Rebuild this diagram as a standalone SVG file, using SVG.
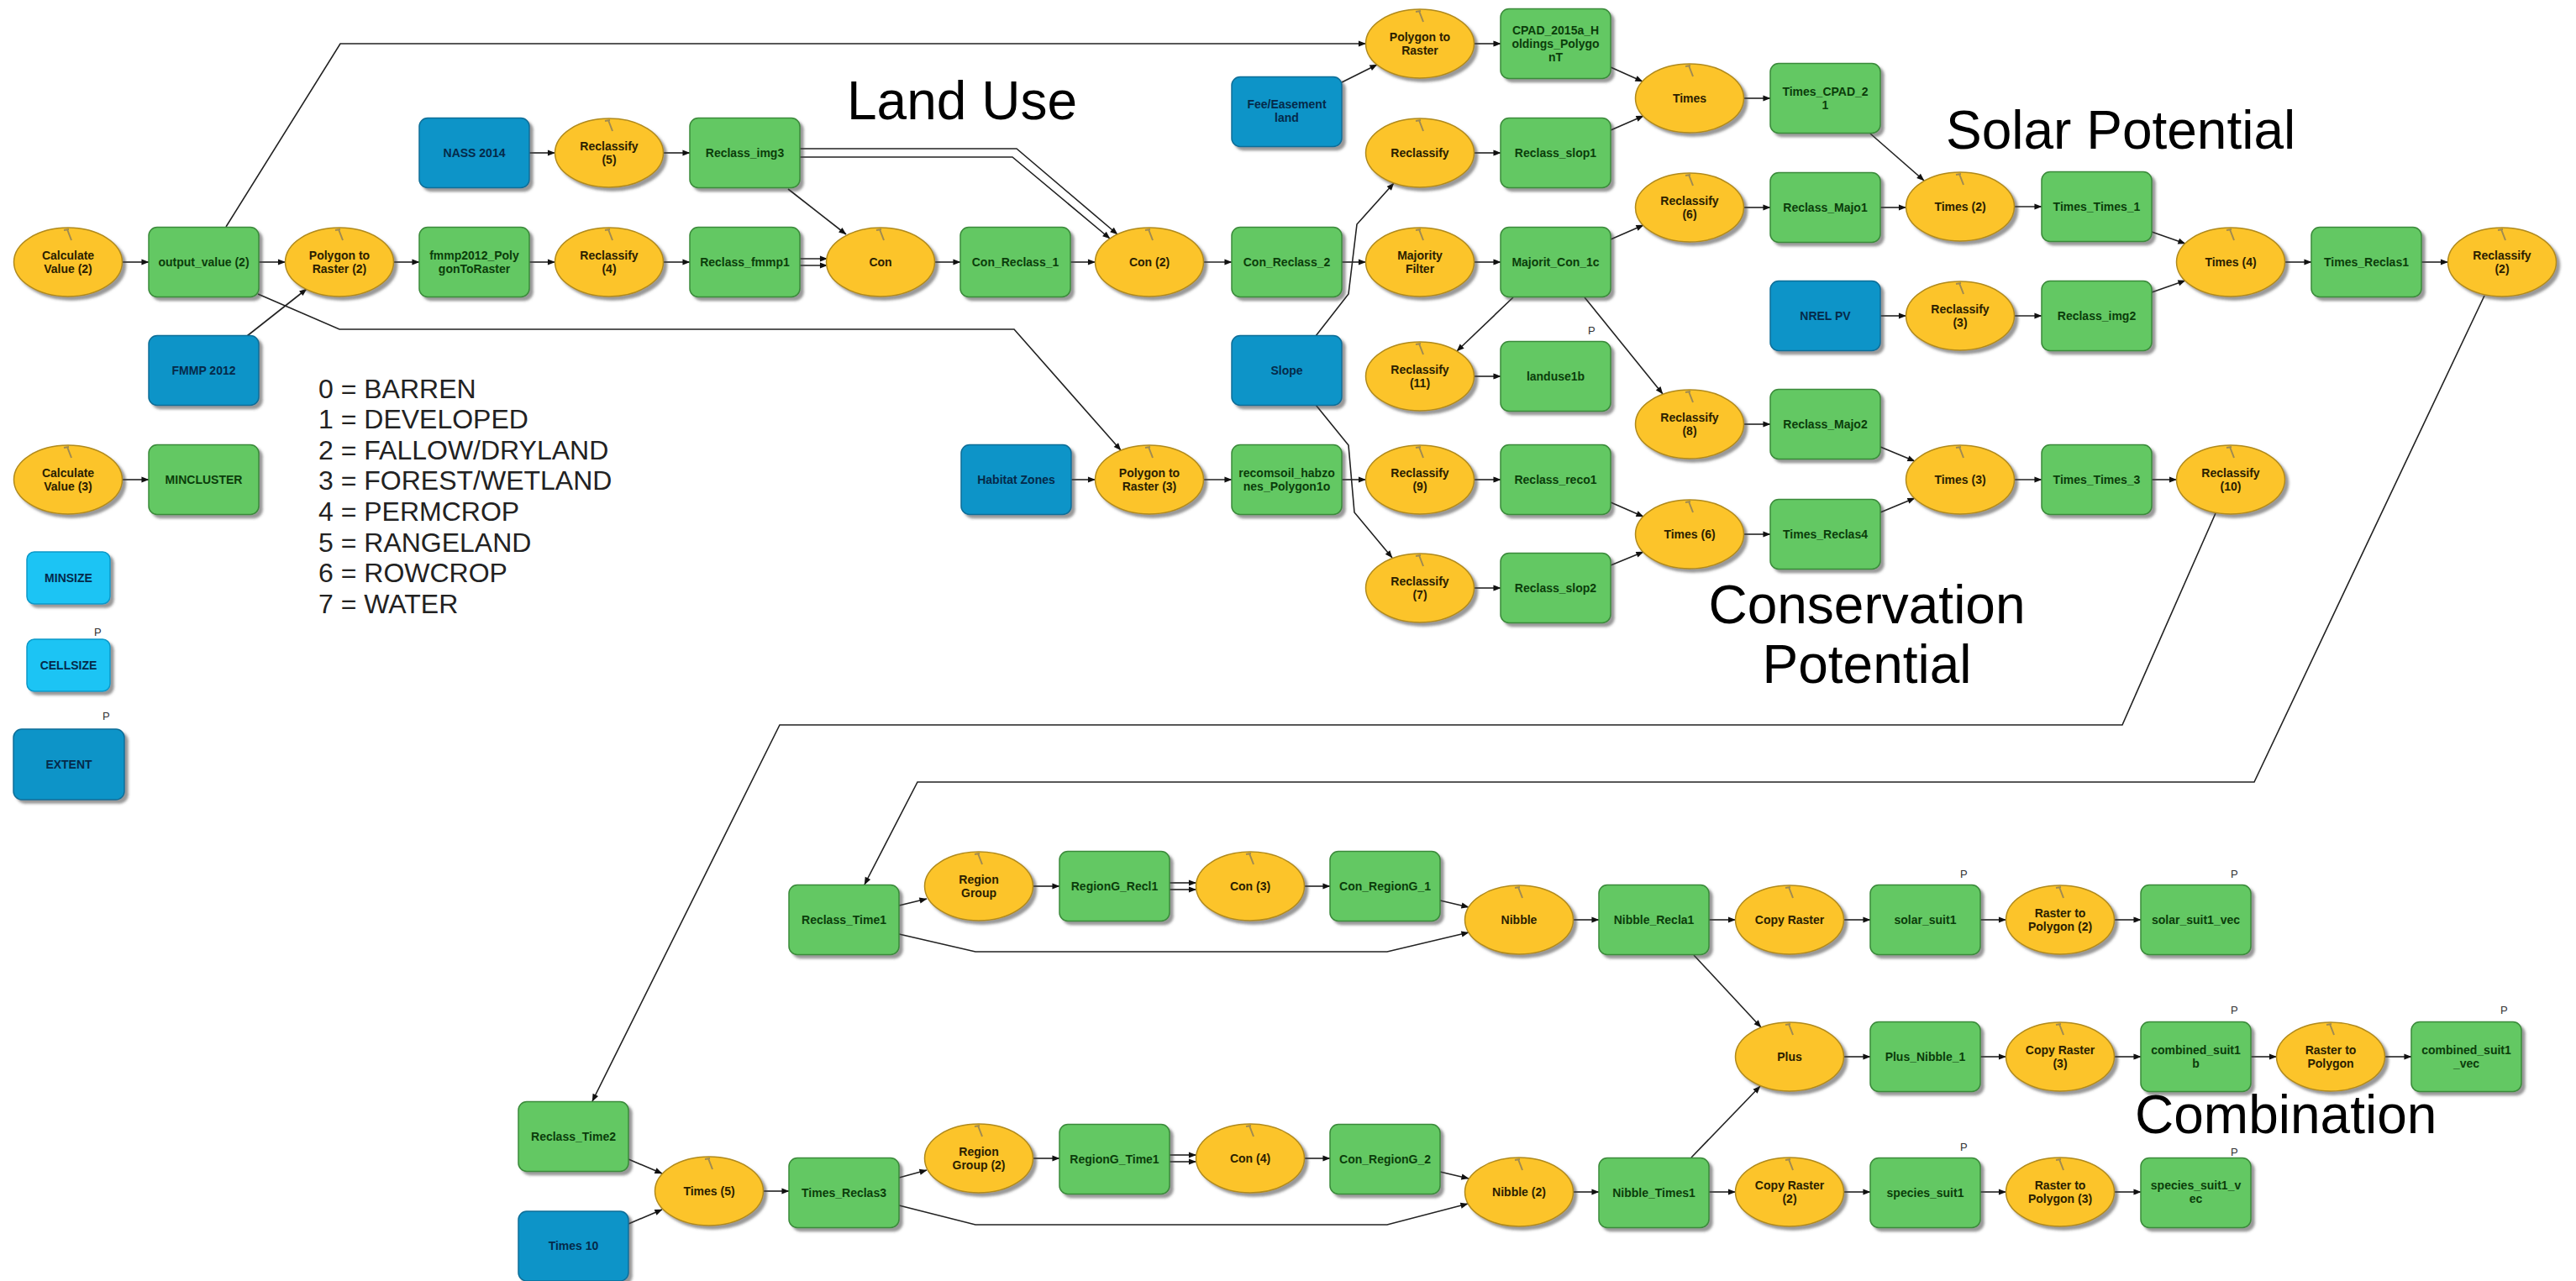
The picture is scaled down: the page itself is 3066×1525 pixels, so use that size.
<svg xmlns="http://www.w3.org/2000/svg" width="3066" height="1525" viewBox="0 0 3066 1525">
<style>
.g{fill:#64c864;stroke:#3a8a3a;stroke-width:1.5}
.y{fill:#fcc42c;stroke:#b08a1c;stroke-width:1.5}
.b{fill:#0a94c8;stroke:#0a6e98;stroke-width:1.5}
.lb{fill:#1cc4f4;stroke:#0a98c8;stroke-width:1.5}
text{font-family:"Liberation Sans",Arial,sans-serif}
.tg{font-size:14px;font-weight:bold;fill:#0b3d0b;text-anchor:middle}
.ty{font-size:14px;font-weight:bold;fill:#2b2000;text-anchor:middle}
.tb{font-size:14px;font-weight:bold;fill:#052a4a;text-anchor:middle}
.p{font-size:13px;fill:#333}
.title{font-size:64px;fill:#000}
.leg{font-size:32px;fill:#222}
.c line,.c polyline{stroke:#222;stroke-width:1.6;fill:none;marker-end:url(#arr)}
</style>
<defs>
<filter id="sh" x="-10%" y="-10%" width="130%" height="130%"><feDropShadow dx="4" dy="4" stdDeviation="1.5" flood-color="#444" flood-opacity="0.55"/></filter>
<marker id="arr" viewBox="0 0 10 10" refX="9.5" refY="5" markerWidth="10" markerHeight="9" markerUnits="userSpaceOnUse" orient="auto"><path d="M0,1 L10,5 L0,9 z" fill="#111"/></marker>
<g id="tool"><path d="M-5,3 L1,2 M-1,2 L4,15" stroke="#a08a50" stroke-width="2" fill="none"/></g>
</defs>
<rect width="3066" height="1525" fill="#fff"/>

<g class="c" id="connectors">
<line x1="145.5" y1="312" x2="177" y2="312"/>
<line x1="308" y1="312" x2="339.5" y2="312"/>
<line x1="468.5" y1="312" x2="499" y2="312"/>
<line x1="630" y1="312" x2="660.5" y2="312"/>
<line x1="630" y1="182" x2="660.5" y2="182"/>
<line x1="789.5" y1="182" x2="821" y2="182"/>
<line x1="789.5" y1="312" x2="821" y2="312"/>
<line x1="952" y1="308" x2="984.5" y2="308"/>
<line x1="952" y1="316" x2="984.5" y2="316"/>
<line x1="938" y1="225" x2="1007" y2="279"/>
<polyline points="952,177 1210,177 1330,279"/>
<polyline points="952,187 1205,187 1321,284"/>
<line x1="1112.5" y1="312" x2="1143" y2="312"/>
<line x1="1274" y1="312" x2="1303.5" y2="312"/>
<line x1="1432.5" y1="312" x2="1466" y2="312"/>
<line x1="1597" y1="312" x2="1625.5" y2="312"/>
<line x1="1754.5" y1="312" x2="1786" y2="312"/>
<line x1="1754.5" y1="52" x2="1786" y2="52"/>
<line x1="1597" y1="98" x2="1639" y2="77"/>
<line x1="1754.5" y1="182" x2="1786" y2="182"/>
<line x1="1917" y1="80" x2="1955" y2="97"/>
<line x1="1917" y1="155" x2="1956" y2="138"/>
<line x1="2075.5" y1="117" x2="2107" y2="117"/>
<line x1="2226" y1="159" x2="2290" y2="215"/>
<line x1="1917" y1="285" x2="1956" y2="268"/>
<line x1="2075.5" y1="247" x2="2107" y2="247"/>
<line x1="2238" y1="247" x2="2268.5" y2="247"/>
<line x1="1801" y1="354" x2="1734" y2="418"/>
<line x1="1886" y1="354" x2="1979" y2="469"/>
<line x1="1754.5" y1="448" x2="1786" y2="448"/>
<line x1="2075.5" y1="505" x2="2107" y2="505"/>
<line x1="2397.5" y1="246" x2="2430" y2="246"/>
<line x1="2561" y1="276" x2="2601" y2="290"/>
<line x1="2561" y1="348" x2="2601" y2="334"/>
<line x1="2238" y1="376" x2="2268.5" y2="376"/>
<line x1="2397.5" y1="376" x2="2430" y2="376"/>
<line x1="2719.5" y1="312" x2="2751" y2="312"/>
<line x1="2882" y1="312" x2="2913.5" y2="312"/>
<polyline points="1566,400 1605,350 1615,267 1659,218"/>
<polyline points="1566,482 1605,530 1612,610 1657,664"/>
<line x1="1275" y1="571" x2="1303.5" y2="571"/>
<line x1="1432.5" y1="571" x2="1466" y2="571"/>
<line x1="1597" y1="571" x2="1625.5" y2="571"/>
<line x1="1754.5" y1="571" x2="1786" y2="571"/>
<line x1="1917" y1="598" x2="1956" y2="615"/>
<line x1="1917" y1="673" x2="1956" y2="657"/>
<line x1="1754.5" y1="700" x2="1786" y2="700"/>
<line x1="2075.5" y1="636" x2="2107" y2="636"/>
<line x1="2238" y1="532" x2="2279" y2="549"/>
<line x1="2238" y1="610" x2="2279" y2="593"/>
<line x1="2397.5" y1="571" x2="2430" y2="571"/>
<line x1="2561" y1="571" x2="2590.5" y2="571"/>
<line x1="145.5" y1="571" x2="177" y2="571"/>
<polyline points="269,270 405,52 1625.5,52"/>
<polyline points="307,350 404,392 1207,392 1334,536"/>
<line x1="294" y1="400" x2="365" y2="344"/>
<polyline points="2637,611 2526,863 928,863 705,1311"/>
<polyline points="2957,352 2683,931 1092,931 1029,1053"/>
<line x1="748" y1="1380" x2="788" y2="1397"/>
<line x1="748" y1="1457" x2="788" y2="1440"/>
<line x1="908.5" y1="1418" x2="939" y2="1418"/>
<line x1="1070" y1="1402" x2="1103" y2="1393"/>
<line x1="1229.5" y1="1379" x2="1261" y2="1379"/>
<line x1="1392" y1="1375" x2="1423.5" y2="1375"/>
<line x1="1392" y1="1383" x2="1423.5" y2="1383"/>
<line x1="1552.5" y1="1379" x2="1583" y2="1379"/>
<line x1="1714" y1="1395" x2="1748" y2="1403"/>
<polyline points="1070,1435 1161,1458 1651,1458 1747,1433"/>
<line x1="1872.5" y1="1419" x2="1903" y2="1419"/>
<line x1="2034" y1="1419" x2="2065.5" y2="1419"/>
<line x1="2194.5" y1="1419" x2="2226" y2="1419"/>
<line x1="2357" y1="1419" x2="2387.5" y2="1419"/>
<line x1="2516.5" y1="1419" x2="2548" y2="1419"/>
<line x1="1070" y1="1078" x2="1103" y2="1070"/>
<line x1="1229.5" y1="1055" x2="1261" y2="1055"/>
<line x1="1392" y1="1051" x2="1423.5" y2="1051"/>
<line x1="1392" y1="1059" x2="1423.5" y2="1059"/>
<line x1="1552.5" y1="1055" x2="1583" y2="1055"/>
<line x1="1714" y1="1072" x2="1748" y2="1080"/>
<polyline points="1070,1112 1161,1133 1651,1133 1748,1110"/>
<line x1="1872.5" y1="1095" x2="1903" y2="1095"/>
<line x1="2034" y1="1095" x2="2065.5" y2="1095"/>
<line x1="2194.5" y1="1095" x2="2226" y2="1095"/>
<line x1="2357" y1="1095" x2="2387.5" y2="1095"/>
<line x1="2516.5" y1="1095" x2="2548" y2="1095"/>
<line x1="2016" y1="1137" x2="2096" y2="1223"/>
<line x1="2013" y1="1378" x2="2095" y2="1293"/>
<line x1="2194.5" y1="1258" x2="2226" y2="1258"/>
<line x1="2357" y1="1258" x2="2387.5" y2="1258"/>
<line x1="2516.5" y1="1258" x2="2548" y2="1258"/>
<line x1="2679" y1="1258" x2="2709.5" y2="1258"/>
<line x1="2838.5" y1="1258" x2="2870" y2="1258"/>
</g>

<!-- tool nodes (yellow ellipses) -->
<g id="calc2"><ellipse class="y" filter="url(#sh)" cx="81" cy="312" rx="64.5" ry="41"/><use href="#tool" transform="translate(81,271)"/><text class="ty" x="81" y="309">Calculate</text><text class="ty" x="81" y="325">Value (2)</text></g>
<g id="ptr2"><ellipse class="y" filter="url(#sh)" cx="404" cy="312" rx="64.5" ry="41"/><use href="#tool" transform="translate(404,271)"/><text class="ty" x="404" y="309">Polygon to</text><text class="ty" x="404" y="325">Raster (2)</text></g>
<g id="recl5"><ellipse class="y" filter="url(#sh)" cx="725" cy="182" rx="64.5" ry="41"/><use href="#tool" transform="translate(725,141)"/><text class="ty" x="725" y="179">Reclassify</text><text class="ty" x="725" y="195">(5)</text></g>
<g id="recl4"><ellipse class="y" filter="url(#sh)" cx="725" cy="312" rx="64.5" ry="41"/><use href="#tool" transform="translate(725,271)"/><text class="ty" x="725" y="309">Reclassify</text><text class="ty" x="725" y="325">(4)</text></g>
<g id="con"><ellipse class="y" filter="url(#sh)" cx="1048" cy="312" rx="64.5" ry="41"/><use href="#tool" transform="translate(1048,271)"/><text class="ty" x="1048" y="317">Con</text></g>
<g id="con2"><ellipse class="y" filter="url(#sh)" cx="1368" cy="312" rx="64.5" ry="41"/><use href="#tool" transform="translate(1368,271)"/><text class="ty" x="1368" y="317">Con (2)</text></g>
<g id="ptr"><ellipse class="y" filter="url(#sh)" cx="1690" cy="52" rx="64.5" ry="41"/><use href="#tool" transform="translate(1690,11)"/><text class="ty" x="1690" y="49">Polygon to</text><text class="ty" x="1690" y="65">Raster</text></g>
<g id="recl"><ellipse class="y" filter="url(#sh)" cx="1690" cy="182" rx="64.5" ry="41"/><use href="#tool" transform="translate(1690,141)"/><text class="ty" x="1690" y="187">Reclassify</text></g>
<g id="majf"><ellipse class="y" filter="url(#sh)" cx="1690" cy="312" rx="64.5" ry="41"/><use href="#tool" transform="translate(1690,271)"/><text class="ty" x="1690" y="309">Majority</text><text class="ty" x="1690" y="325">Filter</text></g>
<g id="recl11"><ellipse class="y" filter="url(#sh)" cx="1690" cy="448" rx="64.5" ry="41"/><use href="#tool" transform="translate(1690,407)"/><text class="ty" x="1690" y="445">Reclassify</text><text class="ty" x="1690" y="461">(11)</text></g>
<g id="ptr3"><ellipse class="y" filter="url(#sh)" cx="1368" cy="571" rx="64.5" ry="41"/><use href="#tool" transform="translate(1368,530)"/><text class="ty" x="1368" y="568">Polygon to</text><text class="ty" x="1368" y="584">Raster (3)</text></g>
<g id="recl9"><ellipse class="y" filter="url(#sh)" cx="1690" cy="571" rx="64.5" ry="41"/><use href="#tool" transform="translate(1690,530)"/><text class="ty" x="1690" y="568">Reclassify</text><text class="ty" x="1690" y="584">(9)</text></g>
<g id="recl7"><ellipse class="y" filter="url(#sh)" cx="1690" cy="700" rx="64.5" ry="41"/><use href="#tool" transform="translate(1690,659)"/><text class="ty" x="1690" y="697">Reclassify</text><text class="ty" x="1690" y="713">(7)</text></g>
<g id="times"><ellipse class="y" filter="url(#sh)" cx="2011" cy="117" rx="64.5" ry="41"/><use href="#tool" transform="translate(2011,76)"/><text class="ty" x="2011" y="122">Times</text></g>
<g id="recl6"><ellipse class="y" filter="url(#sh)" cx="2011" cy="247" rx="64.5" ry="41"/><use href="#tool" transform="translate(2011,206)"/><text class="ty" x="2011" y="244">Reclassify</text><text class="ty" x="2011" y="260">(6)</text></g>
<g id="recl8"><ellipse class="y" filter="url(#sh)" cx="2011" cy="505" rx="64.5" ry="41"/><use href="#tool" transform="translate(2011,464)"/><text class="ty" x="2011" y="502">Reclassify</text><text class="ty" x="2011" y="518">(8)</text></g>
<g id="times6"><ellipse class="y" filter="url(#sh)" cx="2011" cy="636" rx="64.5" ry="41"/><use href="#tool" transform="translate(2011,595)"/><text class="ty" x="2011" y="641">Times (6)</text></g>
<g id="times2"><ellipse class="y" filter="url(#sh)" cx="2333" cy="246" rx="64.5" ry="41"/><use href="#tool" transform="translate(2333,205)"/><text class="ty" x="2333" y="251">Times (2)</text></g>
<g id="recl3"><ellipse class="y" filter="url(#sh)" cx="2333" cy="376" rx="64.5" ry="41"/><use href="#tool" transform="translate(2333,335)"/><text class="ty" x="2333" y="373">Reclassify</text><text class="ty" x="2333" y="389">(3)</text></g>
<g id="times3"><ellipse class="y" filter="url(#sh)" cx="2333" cy="571" rx="64.5" ry="41"/><use href="#tool" transform="translate(2333,530)"/><text class="ty" x="2333" y="576">Times (3)</text></g>
<g id="times4"><ellipse class="y" filter="url(#sh)" cx="2655" cy="312" rx="64.5" ry="41"/><use href="#tool" transform="translate(2655,271)"/><text class="ty" x="2655" y="317">Times (4)</text></g>
<g id="recl10"><ellipse class="y" filter="url(#sh)" cx="2655" cy="571" rx="64.5" ry="41"/><use href="#tool" transform="translate(2655,530)"/><text class="ty" x="2655" y="568">Reclassify</text><text class="ty" x="2655" y="584">(10)</text></g>
<g id="recl2"><ellipse class="y" filter="url(#sh)" cx="2978" cy="312" rx="64.5" ry="41"/><use href="#tool" transform="translate(2978,271)"/><text class="ty" x="2978" y="309">Reclassify</text><text class="ty" x="2978" y="325">(2)</text></g>
<g id="calc3"><ellipse class="y" filter="url(#sh)" cx="81" cy="571" rx="64.5" ry="41"/><use href="#tool" transform="translate(81,530)"/><text class="ty" x="81" y="568">Calculate</text><text class="ty" x="81" y="584">Value (3)</text></g>
<g id="times5"><ellipse class="y" filter="url(#sh)" cx="844" cy="1418" rx="64.5" ry="41"/><use href="#tool" transform="translate(844,1377)"/><text class="ty" x="844" y="1423">Times (5)</text></g>
<g id="rg"><ellipse class="y" filter="url(#sh)" cx="1165" cy="1055" rx="64.5" ry="41"/><use href="#tool" transform="translate(1165,1014)"/><text class="ty" x="1165" y="1052">Region</text><text class="ty" x="1165" y="1068">Group</text></g>
<g id="rg2"><ellipse class="y" filter="url(#sh)" cx="1165" cy="1379" rx="64.5" ry="41"/><use href="#tool" transform="translate(1165,1338)"/><text class="ty" x="1165" y="1376">Region</text><text class="ty" x="1165" y="1392">Group (2)</text></g>
<g id="con3"><ellipse class="y" filter="url(#sh)" cx="1488" cy="1055" rx="64.5" ry="41"/><use href="#tool" transform="translate(1488,1014)"/><text class="ty" x="1488" y="1060">Con (3)</text></g>
<g id="con4"><ellipse class="y" filter="url(#sh)" cx="1488" cy="1379" rx="64.5" ry="41"/><use href="#tool" transform="translate(1488,1338)"/><text class="ty" x="1488" y="1384">Con (4)</text></g>
<g id="nib"><ellipse class="y" filter="url(#sh)" cx="1808" cy="1095" rx="64.5" ry="41"/><use href="#tool" transform="translate(1808,1054)"/><text class="ty" x="1808" y="1100">Nibble</text></g>
<g id="nib2"><ellipse class="y" filter="url(#sh)" cx="1808" cy="1419" rx="64.5" ry="41"/><use href="#tool" transform="translate(1808,1378)"/><text class="ty" x="1808" y="1424">Nibble (2)</text></g>
<g id="cr"><ellipse class="y" filter="url(#sh)" cx="2130" cy="1095" rx="64.5" ry="41"/><use href="#tool" transform="translate(2130,1054)"/><text class="ty" x="2130" y="1100">Copy Raster</text></g>
<g id="plus"><ellipse class="y" filter="url(#sh)" cx="2130" cy="1258" rx="64.5" ry="41"/><use href="#tool" transform="translate(2130,1217)"/><text class="ty" x="2130" y="1263">Plus</text></g>
<g id="cr2"><ellipse class="y" filter="url(#sh)" cx="2130" cy="1419" rx="64.5" ry="41"/><use href="#tool" transform="translate(2130,1378)"/><text class="ty" x="2130" y="1416">Copy Raster</text><text class="ty" x="2130" y="1432">(2)</text></g>
<g id="rtp2"><ellipse class="y" filter="url(#sh)" cx="2452" cy="1095" rx="64.5" ry="41"/><use href="#tool" transform="translate(2452,1054)"/><text class="ty" x="2452" y="1092">Raster to</text><text class="ty" x="2452" y="1108">Polygon (2)</text></g>
<g id="cr3"><ellipse class="y" filter="url(#sh)" cx="2452" cy="1258" rx="64.5" ry="41"/><use href="#tool" transform="translate(2452,1217)"/><text class="ty" x="2452" y="1255">Copy Raster</text><text class="ty" x="2452" y="1271">(3)</text></g>
<g id="rtp3"><ellipse class="y" filter="url(#sh)" cx="2452" cy="1419" rx="64.5" ry="41"/><use href="#tool" transform="translate(2452,1378)"/><text class="ty" x="2452" y="1416">Raster to</text><text class="ty" x="2452" y="1432">Polygon (3)</text></g>
<g id="rtp"><ellipse class="y" filter="url(#sh)" cx="2774" cy="1258" rx="64.5" ry="41"/><use href="#tool" transform="translate(2774,1217)"/><text class="ty" x="2774" y="1255">Raster to</text><text class="ty" x="2774" y="1271">Polygon</text></g>

<!-- data nodes (green) -->
<g id="outval2"><rect class="g" filter="url(#sh)" x="177" y="270.5" width="131" height="83" rx="10"/><text class="tg" x="242.5" y="317">output_value (2)</text></g>
<g id="fmmp2012"><rect class="g" filter="url(#sh)" x="499" y="270.5" width="131" height="83" rx="10"/><text class="tg" x="564.5" y="309">fmmp2012_Poly</text><text class="tg" x="564.5" y="325">gonToRaster</text></g>
<g id="img3"><rect class="g" filter="url(#sh)" x="821" y="140.5" width="131" height="83" rx="10"/><text class="tg" x="886.5" y="187">Reclass_img3</text></g>
<g id="fmmp1"><rect class="g" filter="url(#sh)" x="821" y="270.5" width="131" height="83" rx="10"/><text class="tg" x="886.5" y="317">Reclass_fmmp1</text></g>
<g id="conrecl1"><rect class="g" filter="url(#sh)" x="1143" y="270.5" width="131" height="83" rx="10"/><text class="tg" x="1208.5" y="317">Con_Reclass_1</text></g>
<g id="conrecl2"><rect class="g" filter="url(#sh)" x="1466" y="270.5" width="131" height="83" rx="10"/><text class="tg" x="1531.5" y="317">Con_Reclass_2</text></g>
<g id="cpad"><rect class="g" filter="url(#sh)" x="1786" y="10.5" width="131" height="83" rx="10"/><text class="tg" x="1851.5" y="41">CPAD_2015a_H</text><text class="tg" x="1851.5" y="57">oldings_Polygo</text><text class="tg" x="1851.5" y="73">nT</text></g>
<g id="slop1"><rect class="g" filter="url(#sh)" x="1786" y="140.5" width="131" height="83" rx="10"/><text class="tg" x="1851.5" y="187">Reclass_slop1</text></g>
<g id="majcon"><rect class="g" filter="url(#sh)" x="1786" y="270.5" width="131" height="83" rx="10"/><text class="tg" x="1851.5" y="317">Majorit_Con_1c</text></g>
<g id="landuse1b"><rect class="g" filter="url(#sh)" x="1786" y="406.5" width="131" height="83" rx="10"/><text class="tg" x="1851.5" y="453">landuse1b</text><text class="p" x="1890" y="398">P</text></g>
<g id="recomsoil"><rect class="g" filter="url(#sh)" x="1466" y="529.5" width="131" height="83" rx="10"/><text class="tg" x="1531.5" y="568">recomsoil_habzo</text><text class="tg" x="1531.5" y="584">nes_Polygon1o</text></g>
<g id="reco1"><rect class="g" filter="url(#sh)" x="1786" y="529.5" width="131" height="83" rx="10"/><text class="tg" x="1851.5" y="576">Reclass_reco1</text></g>
<g id="slop2"><rect class="g" filter="url(#sh)" x="1786" y="658.5" width="131" height="83" rx="10"/><text class="tg" x="1851.5" y="705">Reclass_slop2</text></g>
<g id="tcpad"><rect class="g" filter="url(#sh)" x="2107" y="75.5" width="131" height="83" rx="10"/><text class="tg" x="2172.5" y="114">Times_CPAD_2</text><text class="tg" x="2172.5" y="130">1</text></g>
<g id="majo1"><rect class="g" filter="url(#sh)" x="2107" y="205.5" width="131" height="83" rx="10"/><text class="tg" x="2172.5" y="252">Reclass_Majo1</text></g>
<g id="majo2"><rect class="g" filter="url(#sh)" x="2107" y="463.5" width="131" height="83" rx="10"/><text class="tg" x="2172.5" y="510">Reclass_Majo2</text></g>
<g id="treclas4"><rect class="g" filter="url(#sh)" x="2107" y="594.5" width="131" height="83" rx="10"/><text class="tg" x="2172.5" y="641">Times_Reclas4</text></g>
<g id="tt1"><rect class="g" filter="url(#sh)" x="2430" y="204.5" width="131" height="83" rx="10"/><text class="tg" x="2495.5" y="251">Times_Times_1</text></g>
<g id="img2"><rect class="g" filter="url(#sh)" x="2430" y="334.5" width="131" height="83" rx="10"/><text class="tg" x="2495.5" y="381">Reclass_img2</text></g>
<g id="tt3"><rect class="g" filter="url(#sh)" x="2430" y="529.5" width="131" height="83" rx="10"/><text class="tg" x="2495.5" y="576">Times_Times_3</text></g>
<g id="treclas1"><rect class="g" filter="url(#sh)" x="2751" y="270.5" width="131" height="83" rx="10"/><text class="tg" x="2816.5" y="317">Times_Reclas1</text></g>
<g id="mincluster"><rect class="g" filter="url(#sh)" x="177" y="529.5" width="131" height="83" rx="10"/><text class="tg" x="242.5" y="576">MINCLUSTER</text></g>
<g id="rtime1"><rect class="g" filter="url(#sh)" x="939" y="1053.5" width="131" height="83" rx="10"/><text class="tg" x="1004.5" y="1100">Reclass_Time1</text></g>
<g id="rtime2"><rect class="g" filter="url(#sh)" x="617" y="1311.5" width="131" height="83" rx="10"/><text class="tg" x="682.5" y="1358">Reclass_Time2</text></g>
<g id="treclas3"><rect class="g" filter="url(#sh)" x="939" y="1378.5" width="131" height="83" rx="10"/><text class="tg" x="1004.5" y="1425">Times_Reclas3</text></g>
<g id="rgrecl1"><rect class="g" filter="url(#sh)" x="1261" y="1013.5" width="131" height="83" rx="10"/><text class="tg" x="1326.5" y="1060">RegionG_Recl1</text></g>
<g id="rgtime1"><rect class="g" filter="url(#sh)" x="1261" y="1338.5" width="131" height="83" rx="10"/><text class="tg" x="1326.5" y="1385">RegionG_Time1</text></g>
<g id="conrg1"><rect class="g" filter="url(#sh)" x="1583" y="1013.5" width="131" height="83" rx="10"/><text class="tg" x="1648.5" y="1060">Con_RegionG_1</text></g>
<g id="conrg2"><rect class="g" filter="url(#sh)" x="1583" y="1338.5" width="131" height="83" rx="10"/><text class="tg" x="1648.5" y="1385">Con_RegionG_2</text></g>
<g id="nibrecl1"><rect class="g" filter="url(#sh)" x="1903" y="1053.5" width="131" height="83" rx="10"/><text class="tg" x="1968.5" y="1100">Nibble_Recla1</text></g>
<g id="nibtimes1"><rect class="g" filter="url(#sh)" x="1903" y="1378.5" width="131" height="83" rx="10"/><text class="tg" x="1968.5" y="1425">Nibble_Times1</text></g>
<g id="solar"><rect class="g" filter="url(#sh)" x="2226" y="1053.5" width="131" height="83" rx="10"/><text class="tg" x="2291.5" y="1100">solar_suit1</text><text class="p" x="2333" y="1045">P</text></g>
<g id="plusnib"><rect class="g" filter="url(#sh)" x="2226" y="1216.5" width="131" height="83" rx="10"/><text class="tg" x="2291.5" y="1263">Plus_Nibble_1</text></g>
<g id="species"><rect class="g" filter="url(#sh)" x="2226" y="1378.5" width="131" height="83" rx="10"/><text class="tg" x="2291.5" y="1425">species_suit1</text><text class="p" x="2333" y="1370">P</text></g>
<g id="solarvec"><rect class="g" filter="url(#sh)" x="2548" y="1053.5" width="131" height="83" rx="10"/><text class="tg" x="2613.5" y="1100">solar_suit1_vec</text><text class="p" x="2655" y="1045">P</text></g>
<g id="comb"><rect class="g" filter="url(#sh)" x="2548" y="1216.5" width="131" height="83" rx="10"/><text class="tg" x="2613.5" y="1255">combined_suit1</text><text class="tg" x="2613.5" y="1271">b</text><text class="p" x="2655" y="1207">P</text></g>
<g id="speciesvec"><rect class="g" filter="url(#sh)" x="2548" y="1378.5" width="131" height="83" rx="10"/><text class="tg" x="2613.5" y="1416">species_suit1_v</text><text class="tg" x="2613.5" y="1432">ec</text><text class="p" x="2655" y="1376">P</text></g>
<g id="combvec"><rect class="g" filter="url(#sh)" x="2870" y="1216.5" width="131" height="83" rx="10"/><text class="tg" x="2935.5" y="1255">combined_suit1</text><text class="tg" x="2935.5" y="1271">_vec</text><text class="p" x="2976" y="1207">P</text></g>

<!-- input data (blue) -->
<g id="nass"><rect class="b" filter="url(#sh)" x="499" y="140.5" width="131" height="83" rx="10"/><text class="tb" x="564.5" y="187">NASS 2014</text></g>
<g id="fmmp"><rect class="b" filter="url(#sh)" x="177" y="399.5" width="131" height="83" rx="10"/><text class="tb" x="242.5" y="446">FMMP 2012</text></g>
<g id="fee"><rect class="b" filter="url(#sh)" x="1466" y="91.5" width="131" height="83" rx="10"/><text class="tb" x="1531.5" y="129">Fee/Easement</text><text class="tb" x="1531.5" y="145">land</text></g>
<g id="slope"><rect class="b" filter="url(#sh)" x="1466" y="399.5" width="131" height="83" rx="10"/><text class="tb" x="1531.5" y="446">Slope</text></g>
<g id="habitat"><rect class="b" filter="url(#sh)" x="1144" y="529.5" width="131" height="83" rx="10"/><text class="tb" x="1209.5" y="576">Habitat Zones</text></g>
<g id="nrel"><rect class="b" filter="url(#sh)" x="2107" y="334.5" width="131" height="83" rx="10"/><text class="tb" x="2172.5" y="381">NREL PV</text></g>
<g id="times10"><rect class="b" filter="url(#sh)" x="617" y="1442" width="131" height="83" rx="10"/><text class="tb" x="682.5" y="1488">Times 10</text></g>
<g id="extent"><rect class="b" filter="url(#sh)" x="16" y="868" width="132" height="84" rx="10"/><text class="tb" x="82" y="915">EXTENT</text><text class="p" x="122" y="857">P</text></g>
<g id="minsize"><rect class="lb" filter="url(#sh)" x="32" y="657" width="99" height="62" rx="9"/><text class="tb" x="81.5" y="693">MINSIZE</text></g>
<g id="cellsize"><rect class="lb" filter="url(#sh)" x="32" y="761" width="99" height="62" rx="9"/><text class="tb" x="81.5" y="797">CELLSIZE</text><text class="p" x="112" y="757">P</text></g>

<!-- titles and legend -->
<text class="title" x="1008" y="142">Land Use</text>
<text class="title" x="2316" y="177">Solar Potential</text>
<text class="title" x="2222" y="742" text-anchor="middle">Conservation</text>
<text class="title" x="2222" y="813" text-anchor="middle">Potential</text>
<text class="title" x="2541" y="1349">Combination</text>
<g id="legend">
<text class="leg" x="379" y="474">0 = BARREN</text>
<text class="leg" x="379" y="510">1 = DEVELOPED</text>
<text class="leg" x="379" y="547">2 = FALLOW/DRYLAND</text>
<text class="leg" x="379" y="583">3 = FOREST/WETLAND</text>
<text class="leg" x="379" y="620">4 = PERMCROP</text>
<text class="leg" x="379" y="657">5 = RANGELAND</text>
<text class="leg" x="379" y="693">6 = ROWCROP</text>
<text class="leg" x="379" y="730">7 = WATER</text>
</g>
</svg>
